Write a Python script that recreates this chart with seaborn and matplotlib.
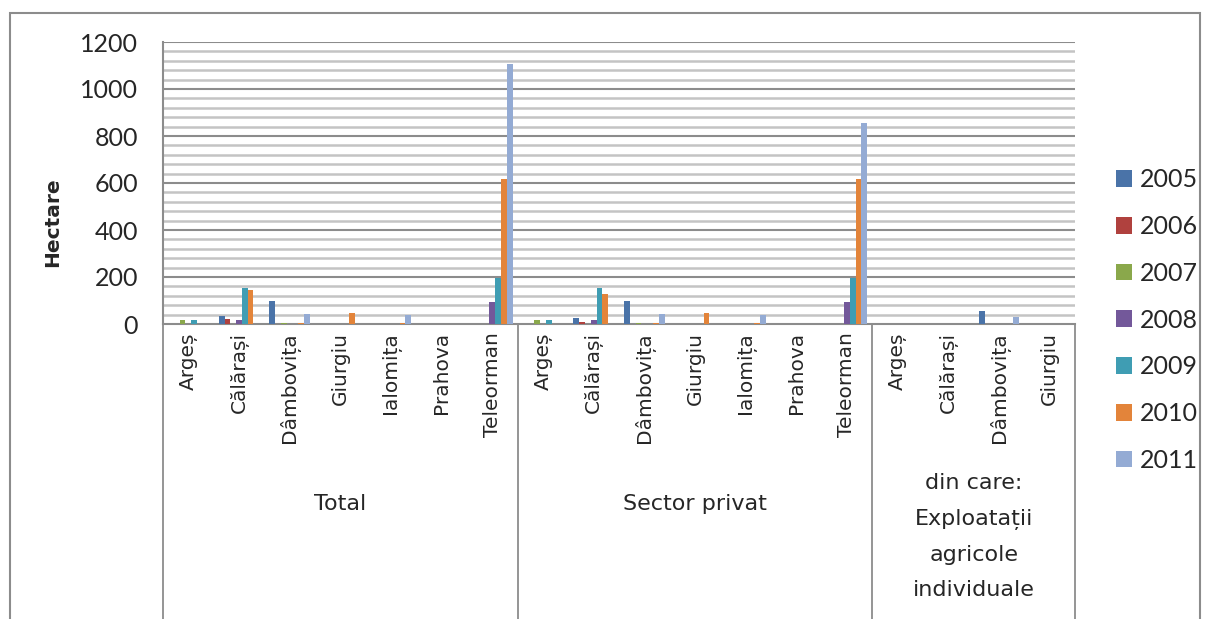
import matplotlib
matplotlib.use("Agg")
import matplotlib.pyplot as plt
import matplotlib.transforms as mtransforms
from matplotlib.patches import Patch, Rectangle
from matplotlib.lines import Line2D
import pandas as pd
import seaborn as sns

# --- data (hectares) ---
groups = ["Total", "Sector privat", "din care:\nExploatații\nagricole\nindividuale"]
group_counties = [
    ["Argeș", "Călărași", "Dâmbovița", "Giurgiu", "Ialomița", "Prahova", "Teleorman"],
    ["Argeș", "Călărași", "Dâmbovița", "Giurgiu", "Ialomița", "Prahova", "Teleorman"],
    ["Argeș", "Călărași", "Dâmbovița", "Giurgiu"],
]
years = ["2005", "2006", "2007", "2008", "2009", "2010", "2011"]
v2005 = [0, 33, 96, 0, 0, 0, 0,     0, 26, 96, 0, 0, 0, 0,      0, 0, 57, 0]
v2006 = [0, 21, 0, 0, 0, 0, 0,      0, 8, 0, 0, 0, 0, 0,        0, 0, 0, 0]
v2007 = [17, 0, 3, 0, 0, 0, 0,      17, 0, 3, 0, 0, 0, 0,       0, 0, 0, 0]
v2008 = [0, 15, 0, 0, 0, 0, 95,     0, 16, 0, 0, 0, 0, 95,      0, 0, 0, 0]
v2009 = [16, 152, 0, 0, 0, 1, 195,  16, 152, 0, 0, 0, 1, 195,   0, 0, 0, 0]
v2010 = [0, 146, 4, 45, 4, 0, 618,  0, 128, 4, 47, 4, 0, 618,   0, 1, 0, 0]
v2011 = [0, 0, 44, 1, 37, 0, 1108,  0, 0, 44, 1, 37, 0, 855,    0, 0, 28, 1]
colors = ["#4a73a8", "#b0413e", "#8aa84b", "#73589a", "#3f9db3", "#e3843a", "#94abd4"]

series = [v2005, v2006, v2007, v2008, v2009, v2010, v2011]

# unique keys for each category position
keys, labels = [], []
for gi, counties in enumerate(group_counties):
    for c in counties:
        keys.append(f"{gi}|{c}")
        labels.append(c)

rows = []
for y, vals in zip(years, series):
    for k, v in zip(keys, vals):
        rows.append({"cat": k, "year": y, "value": v})
df = pd.DataFrame(rows)

sns.set_style("white")
plt.rcParams["font.family"] = ["Lato", "DejaVu Sans"]
label_font = ["DejaVu Sans"]

fig = plt.figure(figsize=(12.05, 6.19), dpi=100)
ax = fig.add_axes([163 / 1205, 1 - 324 / 619, (1075 - 163) / 1205, (324 - 42) / 619])

sns.barplot(data=df, x="cat", y="value", hue="year", order=keys, hue_order=years,
            palette=colors, width=0.8, saturation=1, linewidth=0, ax=ax,
            legend=False, zorder=3)

# gridlines: minor every 40, major every 200
for yv in range(40, 1201, 40):
    if yv % 200 == 0:
        ax.axhline(yv, color="#8c8c8c", lw=1.5, zorder=1)
    else:
        ax.axhline(yv, color="#c4c4c4", lw=1.8, zorder=1)

ax.set_xlim(-0.5, len(keys) - 0.5)
ax.set_ylim(0, 1200)
ax.set_yticks(range(0, 1201, 200))
ax.tick_params(axis="y", labelsize=18, length=8, color="#8c8c8c", pad=10)
ax.set_xticks(range(len(keys)))
ax.set_xticklabels(labels, rotation=90, fontsize=14.5, family=label_font)
ax.tick_params(axis="x", length=0, pad=6)
ax.set_xlabel("")
ax.set_ylabel("Hectare", fontsize=14.5, fontweight="bold", family=label_font)
ax.yaxis.set_label_coords(-0.111, 0.36)

for s in ["top", "right"]:
    ax.spines[s].set_visible(False)
for s in ["left", "bottom"]:
    ax.spines[s].set_color("#8c8c8c")
    ax.spines[s].set_linewidth(1.5)

# group separators and group labels
trans = mtransforms.blended_transform_factory(ax.transData, ax.transAxes)
start = 0
bounds = [-0.5]
for gi, counties in enumerate(group_counties):
    n = len(counties)
    center = start + (n - 1) / 2
    if "\n" in groups[gi]:
        ax.text(center, -0.53, groups[gi], transform=trans, ha="center", va="top",
                fontsize=16, family=label_font, linespacing=1.95)
    else:
        ax.text(center, -0.64, groups[gi], transform=trans, ha="center", va="center",
                fontsize=16, family=label_font)
    start += n
    bounds.append(start - 0.5)
for b in bounds:
    ax.add_line(Line2D([b, b], [0, -1.05], transform=trans, color="#8c8c8c",
                       lw=1.3, clip_on=False))

# legend
handles = [Patch(facecolor=c, edgecolor="none", label=y) for c, y in zip(colors, years)]
fig.legend(handles=handles, loc="center left", bbox_to_anchor=(1116 / 1205, 1 - 320 / 619),
           frameon=False, fontsize=18, handlelength=0.65, handleheight=0.65,
           handletextpad=0.3, labelspacing=0.95, borderaxespad=0, borderpad=0)

# outer chart frame
fig.add_artist(Rectangle((10 / 1205, -0.05), 1190 / 1205, 1 - 13 / 619 + 0.05,
                         transform=fig.transFigure, fill=False, edgecolor="#8c8c8c", lw=1.5))

fig.savefig("out.png", dpi=100)
